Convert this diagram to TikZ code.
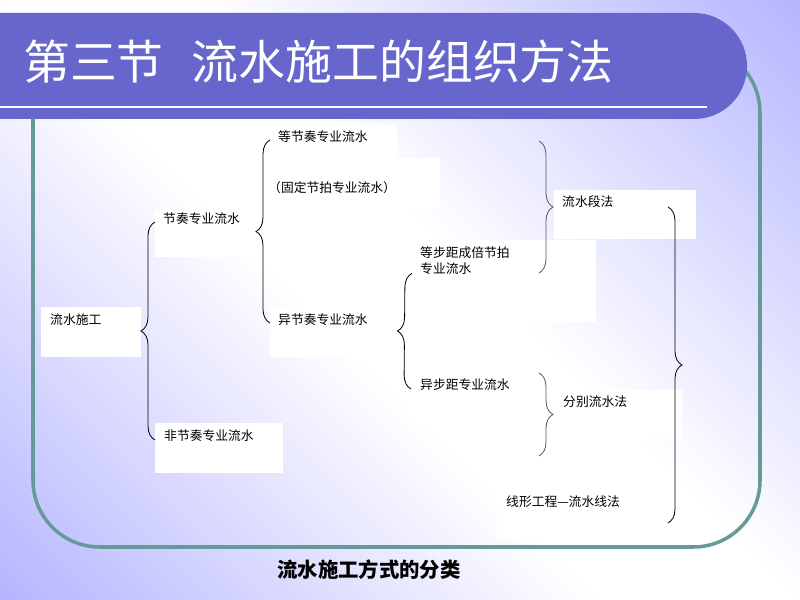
\documentclass[tikz,border=0pt]{standalone}
\usepackage{fontspec}
\setmainfont{Noto Sans CJK SC}
\usetikzlibrary{decorations.pathreplacing,calc}
\definecolor{bgpurple}{RGB}{153,153,255}
\definecolor{barblue}{RGB}{102,102,204}
\definecolor{frameteal}{RGB}{102,153,153}
\definecolor{braceg}{RGB}{90,90,90}
\pgfdeclareverticalshading{bgdiag}{100bp}{color(0bp)=(bgpurple); color(3bp)=(bgpurple); color(45bp)=(white); color(55bp)=(white); color(97bp)=(bgpurple); color(100bp)=(bgpurple)}
\begin{document}
\begin{tikzpicture}[x=0.03cm,y=-0.03cm,
  txt/.style={anchor=west,inner sep=0pt,font=\fontsize{10.9}{13.7}\selectfont},
  brc/.style={decorate,decoration={brace,amplitude=0.42cm},line width=0.7pt}]
\useasboundingbox (0,0) rectangle (800,600);
\shade[shading=bgdiag,shading angle=-45] (0,0) rectangle (800,600);
\draw[frameteal,line width=3pt,rounded corners=2cm] (33,46) rectangle (760,547);
\fill[barblue,rounded corners=1.58cm] (-60,13) rectangle (747,119);
\draw[white,line width=2.5pt] (-60,107) -- (707,107);
\node[anchor=west,white,inner sep=0pt,font=\fontsize{40}{44}\selectfont] (title) at (23,62) {第三节\hspace{0.6em}流水施工的组织方法};
\fill[white] (41,307) rectangle (141,357);
\fill[white] (155,210) rectangle (282,257);
\fill[white] (155,423) rectangle (283,473);
\fill[white] (270,125) rectangle (397,158);
\fill[white] (270,158) rectangle (440,208);
\fill[white] (270,307) rectangle (397,357);
\fill[white] (412,240) rectangle (596,322);
\fill[white] (411,373) rectangle (538,422);
\fill[white] (554,190) rectangle (696,239);
\fill[white] (552,390) rectangle (682,439);
\fill[white] (497,489) rectangle (670,538);
\node[txt] (ls) at (50,320) {流水施工};
\node[txt] (jz) at (163,219) {节奏专业流水};
\node[txt] (ffjz) at (164,436) {非节奏专业流水};
\node[txt] (djz) at (278,137) {等节奏专业流水};
\node[txt] (gdjp) at (268,188) {（固定节拍专业流水）};
\node[txt] (yjz) at (278,320) {异节奏专业流水};
\node[txt,anchor=north west,align=left] (dbj) at (420,246) {等步距成倍节拍\\专业流水};
\node[txt] (ybj) at (420,385) {异步距专业流水};
\node[txt] (lsd) at (562,202) {流水段法};
\node[txt] (fb) at (563,402) {分别流水法};
\node[txt] (xx) at (506,502) {线形工程—流水线法};
\coordinate (lsdtop) at (539,141);
\coordinate (lsdbot) at (539,273);
\coordinate (fbtop) at (539,373);
\coordinate (fbbot) at (539,456);
\coordinate (alltop) at (668,207);
\coordinate (allbot) at (668,523);
\draw[brc] ($(ffjz.west)+(-9,4)$) -- ($(jz.west)+(-8,3)$);
\draw[brc] ($(yjz.west)+(-8,3)$) -- ($(djz.west)+(-8,3)$);
\draw[brc] ($(ybj.west)+(-9,4)$) -- ($(dbj.south west)+(-8,-1)$);
\draw[brc,braceg] (lsdtop) -- (lsdbot);
\draw[brc,braceg] (fbtop) -- (fbbot);
\draw[brc] (alltop) -- (allbot);
\node[font=\fontsize{17.4}{20}\selectfont\bfseries] (cap) at (369,570) {流水施工方式的分类};
\end{tikzpicture}
\end{document}
